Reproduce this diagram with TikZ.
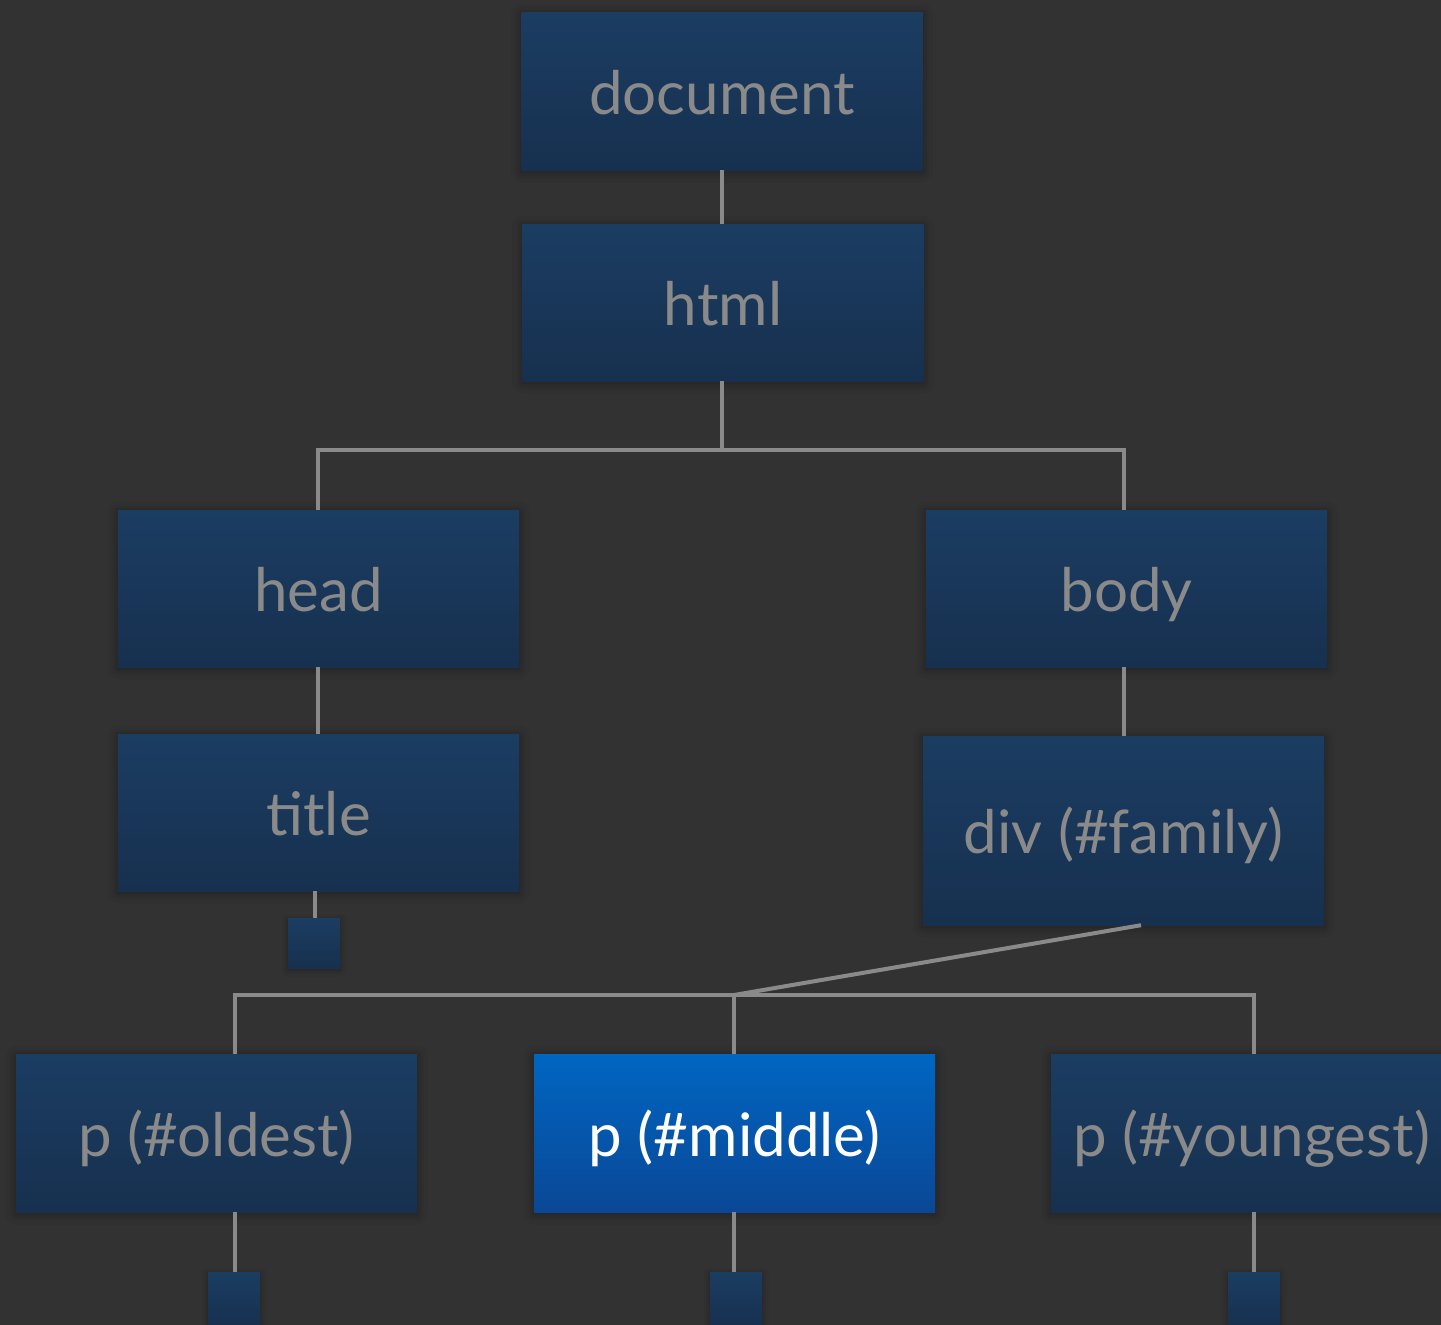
\documentclass[tikz,border=0pt]{standalone}
\usepackage{fontspec}
\setmainfont{Lato}
\usetikzlibrary{shadows.blur}
\definecolor{bgc}{HTML}{323232}
\definecolor{boxtop}{HTML}{1B3D62}
\definecolor{boxbot}{HTML}{17304F}
\definecolor{seltop}{HTML}{0066C2}
\definecolor{selbot}{HTML}{0A4796}
\definecolor{txtc}{HTML}{8A8A8A}
\definecolor{linec}{HTML}{8A8A8A}
\tikzset{
  treebox/.style={rectangle, inner sep=0pt, top color=boxtop, bottom color=boxbot,
    minimum width=401pt, minimum height=157pt, text=txtc,
    text height=50pt, text depth=4pt,
    font=\fontsize{60}{70}\selectfont,
    blur shadow={shadow xshift=0pt, shadow yshift=-2pt, shadow blur radius=10pt, shadow opacity=40}},
  selbox/.style={treebox, top color=seltop, bottom color=selbot, text=white},
  leafbox/.style={rectangle, inner sep=0pt, top color=boxtop, bottom color=boxbot,
    minimum width=52pt, minimum height=52pt,
    blur shadow={shadow xshift=0pt, shadow yshift=-2pt, shadow blur radius=6pt, shadow opacity=35}},
  conn/.style={draw=linec, line width=4pt}
}
\begin{document}
\begin{tikzpicture}[x=1pt,y=-1pt]
\fill[bgc] (0,0) rectangle (1441,1325);
\useasboundingbox (0,0) rectangle (1441,1325);

% nodes
\node[treebox, minimum height=158pt] (doc) at (722,91) {document};
\node[treebox] (html) at (723,302.5) {html};
\node[treebox] (head) at (318.5,588.5) {head};
\node[treebox] (body) at (1126.5,588.5) {body};
\node[treebox] (title) at (318.5,812.5) {title};
\node[treebox, minimum height=189pt] (div) at (1123.5,830.5) {div (\#family)};
\node[treebox, minimum height=158pt] (old) at (216.5,1133) {p (\#oldest)};
\node[selbox, minimum height=158pt] (mid) at (734.5,1133) {p (\#middle)};
\node[treebox, minimum height=158pt] (you) at (1251.5,1133) {p (\#youngest)};
\node[leafbox, minimum height=50pt] (tleaf) at (314,943) {};
\node[leafbox, minimum height=54pt] (oleaf) at (234,1299) {};
\node[leafbox, minimum height=54pt] (mleaf) at (736,1299) {};
\node[leafbox, minimum height=54pt] (yleaf) at (1254,1299) {};

% junctions
\coordinate (j1) at (722,450);
\coordinate (j2) at (734,995);
\coordinate (dslant) at ([xshift=17.5pt]div.south);
\coordinate (otop) at ([xshift=18.5pt]old.north);
\coordinate (ytop) at ([xshift=2.5pt]you.north);

% connectors
\draw[conn] (doc.south) -- (doc.south |- html.north);
\draw[conn] (html.south -| j1) -- (j1);
\draw[conn] ([xshift=-0.5pt]head.north) |- (j1);
\draw[conn] (j1) -| ([xshift=-2.5pt]body.north);
\draw[conn] ([xshift=-0.5pt]head.south) -- ([xshift=-0.5pt]title.north);
\draw[conn] ([xshift=-2.5pt]body.south) -- ([xshift=-2.5pt]body.south |- div.north);
\draw[conn] ([xshift=-3.5pt]title.south) -- ([xshift=-3.5pt]title.south |- tleaf.north);
\draw[conn] (dslant) -- (j2);
\draw[conn] (otop) |- (j2);
\draw[conn] (j2) -| (ytop);
\draw[conn] (j2) -- (j2 |- mid.north);
\draw[conn] (otop |- old.south) -- (otop |- oleaf.north);
\draw[conn] (j2 |- mid.south) -- (j2 |- mleaf.north);
\draw[conn] (ytop |- you.south) -- (ytop |- yleaf.north);
\end{tikzpicture}
\end{document}
